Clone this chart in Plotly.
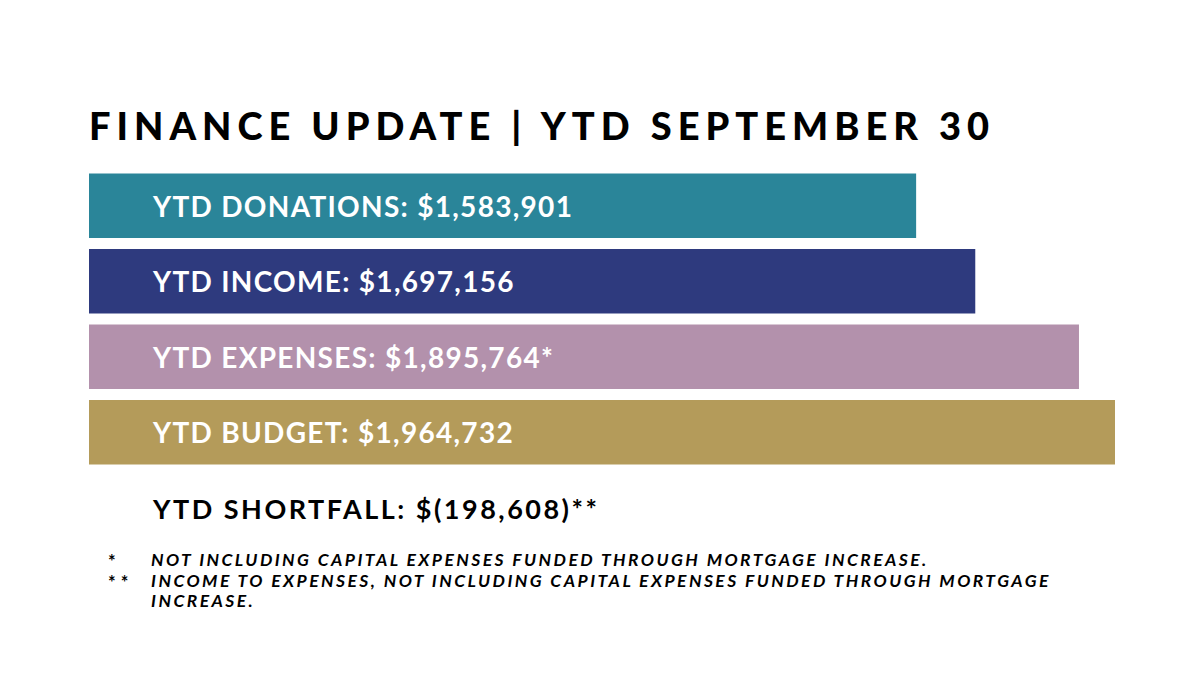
import plotly.graph_objects as go

categories = ["YTD DONATIONS", "YTD INCOME", "YTD EXPENSES", "YTD BUDGET"]
values = [1583901, 1697156, 1895764, 1964732]
suffixes = ["", "", "*", ""]
colors = ["#2a8599", "#2e3a7e", "#b391ac", "#b49b5a"]

title_text = "FINANCE UPDATE | YTD SEPTEMBER 30"
shortfall_label = "YTD SHORTFALL"
footnote_marks = ["*", "**", ""]
footnote_lines = [
    "NOT INCLUDING CAPITAL EXPENSES FUNDED THROUGH MORTGAGE INCREASE.",
    "INCOME TO EXPENSES, NOT INCLUDING CAPITAL EXPENSES FUNDED THROUGH MORTGAGE",
    "INCREASE.",
]

FONT = "Lato"

# plot area in page pixels (page has an 8px body margin)
PX0, PX1, PY0, PY1 = 89, 1115, 168, 470
OFF = 8


def px(x):
    return (x - PX0) / (PX1 - PX0)


def py(y):
    return (PY1 - y) / (PY1 - PY0)


def ls(text, sp):
    return f'<span style="letter-spacing:{sp}px">{text}</span>'


fig = go.Figure()
fig.add_trace(go.Bar(
    x=values, y=categories, orientation="h",
    marker=dict(color=colors, line=dict(width=0)),
    hoverinfo="skip", showlegend=False,
))

for cat, v, s in zip(categories, values, suffixes):
    fig.add_annotation(
        x=0, y=cat, xref="x", yref="y", xanchor="left", yanchor="middle",
        xshift=61, showarrow=False,
        text=ls(f"{cat}: ${v:,}{s}", 1.3),
        font=dict(family=FONT, size=28, color="white", weight="bold"),
    )

shortfall = values[1] - values[2]
sf_val = "(" + format(-shortfall, ",") + ")" if shortfall < 0 else format(shortfall, ",")
fig.add_annotation(
    x=px(150), y=py(509), xref="paper", yref="paper",
    xanchor="left", yanchor="middle", showarrow=False,
    text=ls(f"{shortfall_label}: ${sf_val}**", 2.5),
    font=dict(family=FONT, size=27, color="black", weight="bold"),
)

fig.add_annotation(
    x=px(87), y=py(125), xref="paper", yref="paper",
    xanchor="left", yanchor="middle", showarrow=False,
    text=ls(title_text, 6),
    font=dict(family=FONT, size=38, color="black", weight=900),
)

fn_y = [559, 580, 600]
for mark, txt, yy in zip(footnote_marks, footnote_lines, fn_y):
    if mark:
        fig.add_annotation(
            x=px(106), y=py(yy + 2), xref="paper", yref="paper",
            xanchor="left", yanchor="middle", showarrow=False,
            text=ls(mark, 5),
            font=dict(family=FONT, size=18, color="black", weight="bold"),
        )
    fig.add_annotation(
        x=px(149), y=py(yy), xref="paper", yref="paper",
        xanchor="left", yanchor="middle", showarrow=False, align="left",
        text=f"<i>{ls(txt, 2.45)}</i>",
        font=dict(family=FONT, size=17.5, color="black", weight="bold"),
    )

fig.update_layout(
    width=1200, height=675,
    margin=dict(l=PX0 - OFF, r=1200 - PX1 + OFF, t=PY0 - OFF, b=675 - PY1 + OFF),
    paper_bgcolor="white", plot_bgcolor="white",
    bargap=0.146,
    xaxis=dict(range=[0, max(values)], visible=False, fixedrange=True),
    yaxis=dict(autorange="reversed", visible=False, fixedrange=True),
)

fig.write_html("out.html", config={"displayModeBar": False})
